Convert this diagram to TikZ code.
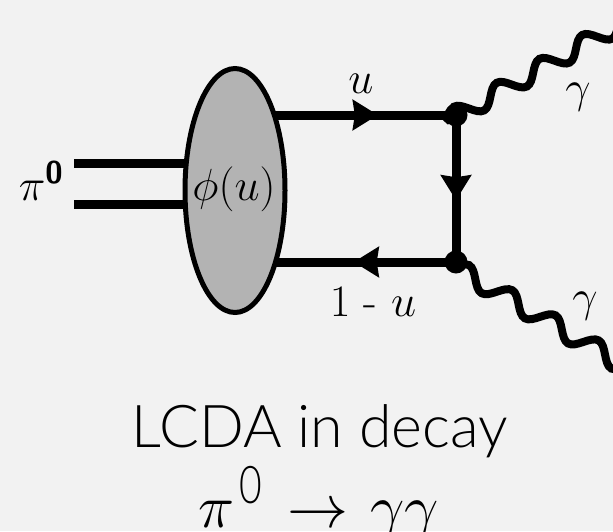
\documentclass[tikz,border=0pt]{standalone}
\usepackage{fix-cm}
\usepackage{amsmath,amssymb}
\usepackage{xcolor}
\usepackage{fontspec}
\newfontfamily\capfont{Lato Light}
\usetikzlibrary{positioning, arrows.meta, decorations.pathmorphing, decorations.markings, shapes.geometric}
\definecolor{bgcol}{HTML}{F2F2F2}
\definecolor{blobcol}{HTML}{B3B3B3}
\tikzset{
    x=1pt, y=1pt,
    midarrow/.style={
        postaction={decorate, decoration={markings,
            mark=at position #1 with {\arrow{Stealth[length=25pt,width=30pt,inset=2pt]}}}}
    },
    line/.style={line width=9pt},
    wave/.style={line width=8pt, decorate, decoration={snake, segment length=#1, amplitude=9pt}},
    vertex/.style={circle, fill=black, inner sep=0pt, minimum size=23pt},
    label/.style={inner sep=0pt, anchor=base, font=\fontsize{45}{45}\selectfont},
}
\begin{document}
\begin{tikzpicture}[node distance=147pt, on grid]
    \fill[bgcol] (0,-531) rectangle (613,0);
    \useasboundingbox (0,-531) rectangle (613,0);

    % Outgoing lines first, the blob goes over them
    \node[vertex] (vt) at (456,-115) {};
    \node[vertex] (vb) [below=of vt] {};
    \coordinate (lt) at (270,-115);
    \coordinate (lb) at (270,-262);
    \coordinate (pa) at (74,-163);
    \coordinate (pb) at (74,-204);
    \coordinate (ea) at (200,-163);
    \coordinate (eb) at (200,-204);
    \coordinate (sa) at (445,-122);
    \coordinate (sb) at (451,-265);
    \coordinate (gt) at (625,-21.3);
    \coordinate (gb) at (630,-369);

    % Lines
    \draw[line] (pa) -- (ea);
    \draw[line] (pb) -- (eb);
    \draw[line, midarrow=0.58] (lt) -- (vt.center);
    \draw[line, midarrow=0.55] (vb.center) -- (lb);
    \draw[line, midarrow=0.58] (vt.center) -- (vb.center);
    \draw[wave=49pt] (sa) -- (gt);
    \draw[wave=50pt] (sb) -- (gb);

    % Blob
    \node[ellipse, draw=black, fill=blobcol, line width=5pt, inner sep=0pt,
          minimum width=100pt, minimum height=244pt] (blob) at (235,-190.5) {};
    \node[label] (phi) at (234,-200) {$\phi(u)$};

    % Labels
    \node[label] (pilab) at (41,-200) {$\pi^{\text{\sffamily\bfseries 0}}$};
    \node[label] (ulab) at (361,-93) {$u$};
    \node[label] (dlab) at (373,-316) {$1$ - $u$};
    \node[label] (gu) at (578,-102) {$\gamma$};
    \node[label] (gd) at (585,-311) {$\gamma$};

    % Caption
    \node[inner sep=0pt, anchor=base, font=\fontsize{59}{59}\selectfont\capfont] (cap) at (320,-447) {LCDA in decay};
    \node[inner sep=0pt, anchor=base, font=\fontsize{61}{61}\selectfont] (dec) at (319,-527)
        {$\pi$\hspace{5pt}\raisebox{24pt}{\scalebox{.75}[1]{\fontsize{52}{52}\selectfont\capfont 0}}\hspace{25pt}$\rightarrow$\hspace{22pt}$\gamma\gamma$};
\end{tikzpicture}
\end{document}
